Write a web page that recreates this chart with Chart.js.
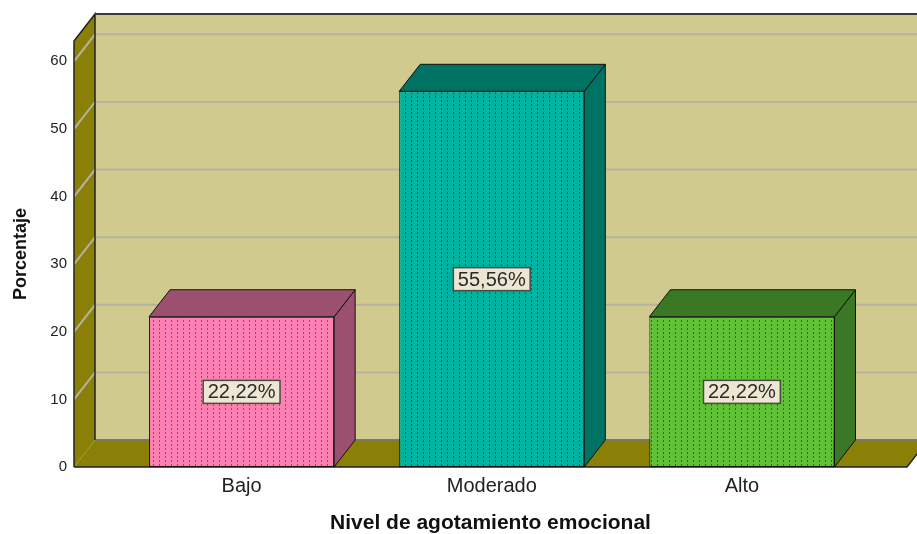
<!DOCTYPE html>
<html lang="es">
<head>
<meta charset="utf-8">
<title>Nivel de agotamiento emocional</title>
<script src="https://cdn.jsdelivr.net/npm/chart.js@4/dist/chart.umd.min.js"></script>
<style>
  html, body { margin: 0; padding: 0; background: #fff; }
  #grafico { display: block; }
</style>
</head>
<body>
<canvas id="grafico" width="917" height="534"></canvas>
<script>
const categorias = ['Bajo', 'Moderado', 'Alto'];
const porcentajes = [22.22, 55.56, 22.22];
const ticksY = [0, 10, 20, 30, 40, 50, 60];

const coloresFrente = ['#ff80b2', '#00b3a0', '#5fc236'];
const coloresPunto = ['#9a4a68', '#006a5a', '#2f7020'];
const coloresLado = ['#9c5070', '#007263', '#3a7826'];

// profundidad del efecto 3D
const DX = 21, DY = 27;

Chart.defaults.font.family = '"Liberation Sans", Arial, sans-serif';
Chart.defaults.color = '#222';

function trama(base, punto) {
	var c = document.createElement('canvas');
	c.width = 6; c.height = 4;
	var g = c.getContext('2d');
	g.fillStyle = base;
	g.fillRect(0, 0, 6, 4);
	g.fillStyle = punto;
	g.fillRect(3, 0, 1, 2);
	return g.createPattern(c, 'repeat');
}

function poligono(ctx, pts, relleno, borde, ancho) {
	ctx.beginPath();
	ctx.moveTo(pts[0][0], pts[0][1]);
	for (var i = 1; i < pts.length; i++) ctx.lineTo(pts[i][0], pts[i][1]);
	ctx.closePath();
	if (relleno) { ctx.fillStyle = relleno; ctx.fill(); }
	if (borde) { ctx.strokeStyle = borde; ctx.lineWidth = ancho || 1; ctx.stroke(); }
}

const paredes = {
	id: 'paredes',
	beforeDatasetsDraw(chart) {
		const ctx = chart.ctx, a = chart.chartArea, y = chart.scales.y;
		const L = a.left, R = a.right, T = a.top, B = a.bottom;
		ctx.save();
		// pared del fondo
		ctx.fillStyle = '#d0ca8f';
		ctx.fillRect(L + DX, T - DY, R - L + 40, B - T);
		// pared izquierda y suelo
		poligono(ctx, [[L, B], [L, T], [L + DX, T - DY], [L + DX, B - DY]], '#8a8008');
		poligono(ctx, [[L, B], [R, B], [R + DX, B - DY], [L + DX, B - DY]], '#8a8008');
		// líneas de cuadrícula
		ctx.strokeStyle = '#b5b3a0';
		ctx.lineWidth = 2;
		y.ticks.forEach(function (t) {
			if (t.value === 0) return;
			const py = y.getPixelForValue(t.value);
			ctx.beginPath();
			ctx.moveTo(L, py);
			ctx.lineTo(L + DX, py - DY);
			ctx.lineTo(R + DX + 40, py - DY);
			ctx.stroke();
		});
		// borde trasero del suelo
		ctx.strokeStyle = '#7c7a66';
		ctx.beginPath();
		ctx.moveTo(L + DX, B - DY);
		ctx.lineTo(R + DX + 40, B - DY);
		ctx.stroke();
		// contornos
		ctx.strokeStyle = '#222';
		ctx.lineWidth = 1.5;
		ctx.beginPath();
		ctx.moveTo(L, B); ctx.lineTo(L, T); ctx.lineTo(L + DX, T - DY); ctx.lineTo(L + DX, B - DY);
		ctx.moveTo(L, B); ctx.lineTo(R, B); ctx.lineTo(R + DX, B - DY);
		ctx.stroke();
		ctx.strokeStyle = '#3c3c34';
		ctx.lineWidth = 2;
		ctx.beginPath();
		ctx.moveTo(L + DX, T - DY); ctx.lineTo(R + DX + 40, T - DY);
		ctx.stroke();
		ctx.restore();
	}
};

const barras3d = {
	id: 'barras3d',
	afterDatasetsDraw(chart) {
		const ctx = chart.ctx;
		const meta = chart.getDatasetMeta(0);
		ctx.save();
		meta.data.forEach(function (bar, i) {
			const p = bar.getProps(['x', 'y', 'width', 'base'], true);
			const l = p.x - p.width / 2, r = p.x + p.width / 2;
			poligono(ctx, [[r, p.y], [r + DX, p.y - DY], [r + DX, p.base - DY], [r, p.base]], coloresLado[i], '#111', 1);
			poligono(ctx, [[l, p.y], [l + DX, p.y - DY], [r + DX, p.y - DY], [r, p.y]], coloresLado[i], '#111', 1);

			// etiqueta con el porcentaje
			const txt = porcentajes[i].toFixed(2).replace('.', ',') + '%';
			ctx.font = '20px "Liberation Sans", Arial, sans-serif';
			const w = ctx.measureText(txt).width + 9, h = 23;
			const cy = (p.y + p.base) / 2;
			ctx.fillStyle = '#ece6d2';
			ctx.fillRect(p.x - w / 2, cy - h / 2, w, h);
			ctx.strokeStyle = '#4a4a44';
			ctx.lineWidth = 1.5;
			ctx.strokeRect(p.x - w / 2, cy - h / 2, w, h);
			ctx.fillStyle = '#2a2a2a';
			ctx.textAlign = 'center';
			ctx.textBaseline = 'middle';
			ctx.fillText(txt, p.x, cy + 1);
		});
		ctx.restore();
	}
};

new Chart(document.getElementById('grafico'), {
	type: 'bar',
	data: {
		datasets: [{
			data: porcentajes.map(function (v, i) { return { x: i, y: v }; }),
			backgroundColor: coloresFrente.map(function (c, i) { return trama(c, coloresPunto[i]); }),
			borderColor: '#111',
			borderWidth: 1,
			borderSkipped: false,
			categoryPercentage: 1,
			barPercentage: 0.74
		}]
	},
	options: {
		responsive: false,
		animation: false,
		layout: { padding: { top: 41, right: 10, left: 0, bottom: 0 } },
		plugins: { legend: { display: false }, tooltip: { enabled: false } },
		scales: {
			x: {
				type: 'linear',
				offset: false,
				min: -0.67,
				max: 2.66,
				grid: { display: false, drawTicks: false, offset: false },
				border: { display: false },
				afterBuildTicks: function (s) { s.ticks = categorias.map(function (c, i) { return { value: i }; }); },
				afterFit: function (s) { s.height = 67; },
				ticks: {
					autoSkip: false,
					maxRotation: 0,
					padding: 7,
					color: '#222',
					font: { size: 20 },
					callback: function (v) { return categorias[v]; }
				},
				title: {
					display: true,
					text: 'Nivel de agotamiento emocional',
					color: '#111',
					font: { size: 21, weight: 'bold', lineHeight: 1 },
					padding: { top: 0, bottom: 0 }
				}
			},
			y: {
				min: 0,
				max: 63,
				grid: { display: false, drawTicks: false },
				border: { display: false },
				afterBuildTicks: function (s) { s.ticks = ticksY.map(function (v) { return { value: v }; }); },
				afterFit: function (s) { s.width = 74; },
				ticks: { padding: 7, color: '#222', font: { size: 15 } },
				title: {
					display: true,
					text: 'Porcentaje',
					color: '#111',
					font: { size: 18, weight: 'bold' },
					padding: { top: 10, bottom: 0 }
				}
			}
		}
	},
	plugins: [paredes, barras3d]
});
</script>
</body>
</html>
